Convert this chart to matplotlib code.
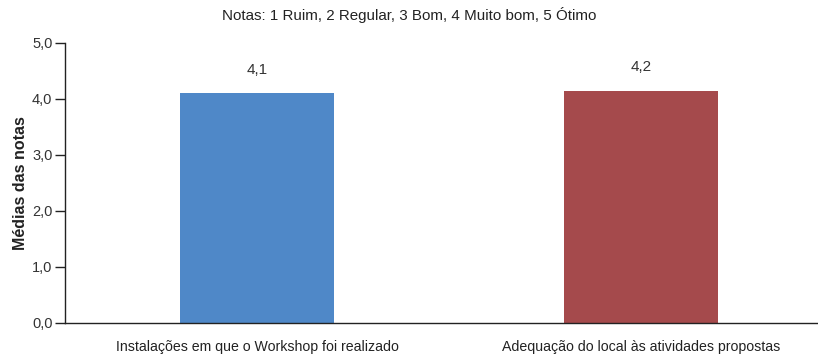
import matplotlib
matplotlib.use("Agg")
import matplotlib.pyplot as plt

# médias das notas por item avaliado
categorias = ["Instalações em que o Workshop foi realizado",
              "Adequação do local às atividades propostas"]
medias = [4.1, 4.15]
cores = ["#4f88c8", "#a54a4c"]
yticks = [0, 1, 2, 3, 4, 5]

plt.rcParams['font.family'] = ['Liberation Sans', 'DejaVu Sans']

fig = plt.figure(figsize=(8.18, 3.56), dpi=100)
ax = fig.add_axes([65 / 818, 33 / 356, 753 / 818, 280 / 356])

x = range(len(categorias))
ax.bar(x, medias, width=0.40, color=cores)

for xi, v in zip(x, medias):
    ax.text(xi, v + 0.3, f"{v:.1f}".replace(".", ","), ha="center", va="bottom",
            fontsize=11, color="#333333")

ax.set_xlim(-0.5, 1.46)
ax.set_ylim(0, 5)
ax.set_yticks(yticks)
ax.set_yticklabels([f"{t:.1f}".replace(".", ",") for t in yticks], fontsize=10.5, color="#333333")
ax.set_xticks(list(x))
ax.set_xticklabels(categorias, fontsize=10.2, color="#222222")
ax.tick_params(axis="x", length=0, pad=12)
ax.tick_params(axis="y", length=7, width=1, color="#222222", pad=2)

for s in ["top", "right"]:
    ax.spines[s].set_visible(False)
for s in ["left", "bottom"]:
    ax.spines[s].set_color("#222222")
    ax.spines[s].set_linewidth(1)

ax.set_ylabel("Médias das notas", fontsize=11.5, fontweight="bold", color="#222222", labelpad=3)
fig.text(0.5, 1 - 15 / 356, "Notas: 1 Ruim, 2 Regular, 3 Bom, 4 Muito bom, 5 Ótimo",
         ha="center", va="center", fontsize=10.9, color="#222222")

fig.savefig("out.png", dpi=100)
